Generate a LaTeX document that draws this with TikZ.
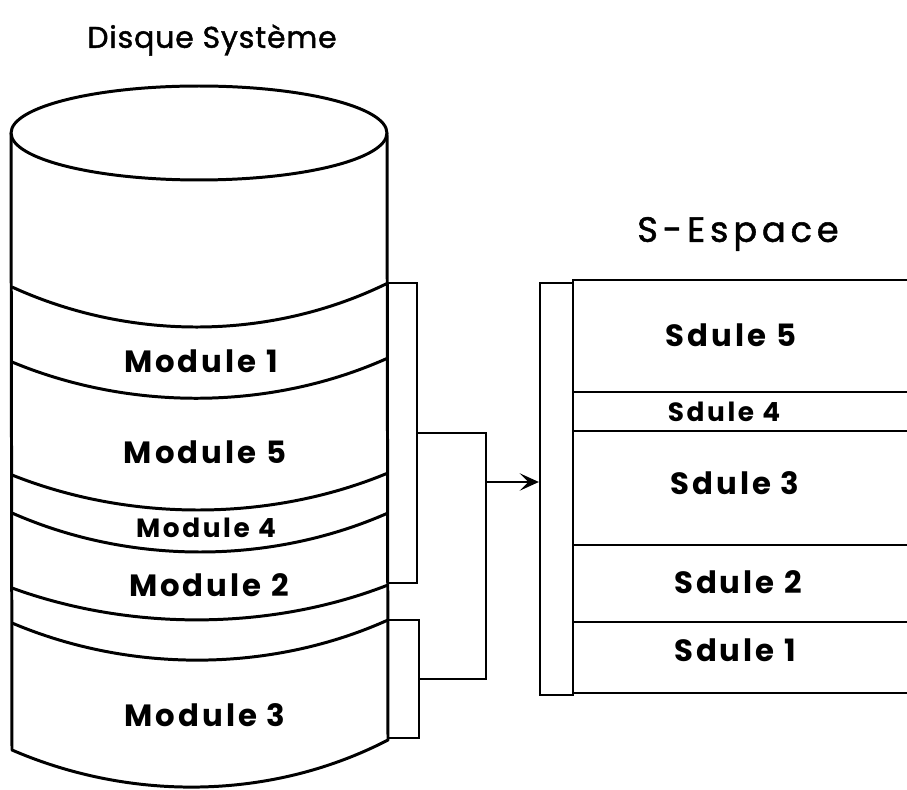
\documentclass[tikz,border=0pt]{standalone}
\usepackage{fontspec}
\setmainfont{Poppins}
\newfontfamily\lblfont[LetterSpace=10]{Poppins}
\newfontfamily\ttlfont[LetterSpace=3,FakeBold=1.5]{Poppins}
\newfontfamily\espfont[LetterSpace=14,FakeBold=1.5]{Poppins}
\usetikzlibrary{arrows.meta}

\begin{document}
\begin{tikzpicture}[x=0.02cm,y=-0.02cm,
  wall/.style={line width=1.7pt,line join=round},
  brk/.style={draw,line width=0.9pt,inner sep=0pt},
  sect/.style={draw,line width=1.3pt,inner sep=0pt,minimum width=7.14cm},
  link/.style={line width=0.9pt},
  lbl/.style={font=\lblfont\fontsize{17.5}{20}\selectfont\bfseries},
  ttl/.style={font=\ttlfont\fontsize{17}{22}\selectfont}]
  \clip (0,0) rectangle (907,790);
  % disque
  \draw[wall] (199,133) ellipse [x radius=3.76cm,y radius=0.94cm];
  \draw[wall] (11,133) -- (12,750) .. controls (130,801) and (270,801) .. (388,740) -- (387,133);
  \foreach \a/\c/\b in {287/341/283,362/411/358,475/522/473,513/565/513,588/631/585,623/673/620}
    \draw[wall] (12,\a) .. controls (130,\c) and (270,\c) .. (388,\b);
  \node[ttl] (disque) at (212,40) {Disque Système};
  \node[lbl] (mod1) at (201,361) {Module 1};
  \node[lbl] (mod5) at (205,452) {Module 5};
  \node[lbl,font=\lblfont\fontsize{15}{17}\selectfont\bfseries] (mod4) at (206,528) {Module 4};
  \node[lbl] (mod2) at (209,585) {Module 2};
  \node[lbl] (mod3) at (205,715) {Module 3};
  % S-Espace
  \node[ttl,font=\espfont\fontsize{20}{24}\selectfont] (sesp) at (738,234) {S-Espace};
  \node[brk,line width=1.3pt,minimum width=0.66cm,minimum height=8.24cm] (strip) at (556.5,489) {};
  \node[sect,minimum height=2.24cm] (s5) at (751.5,336) {};
  \node[sect,minimum height=0.78cm] (s4) at (751.5,411.5) {};
  \node[sect,minimum height=2.28cm] (s3) at (751.5,488) {};
  \node[sect,minimum height=1.54cm] (s2) at (751.5,583.5) {};
  \node[sect,minimum height=1.42cm] (s1) at (751.5,657.5) {};
  \node[lbl] at (731,335) {Sdule 5};
  \node[lbl,font=\lblfont\fontsize{15}{17}\selectfont\bfseries] at (724,412) {Sdule 4};
  \node[lbl] at (735,483) {Sdule 3};
  \node[lbl] at (738,582) {Sdule 2};
  \node[lbl] at (735,650) {Sdule 1};
  % liaisons
  \node[brk,minimum width=0.58cm,minimum height=6cm] (brk1) at (402.5,433) {};
  \node[brk,minimum width=0.62cm,minimum height=2.36cm] (brk2) at (403.5,679) {};
  \coordinate (join) at (486,482);
  \draw[link] (brk1.east) -| (join) |- (brk2.east);
  \draw[link,-{Stealth[length=11pt,width=10pt,inset=5pt]}] (join) -- (join -| strip.west);
\end{tikzpicture}
\end{document}
